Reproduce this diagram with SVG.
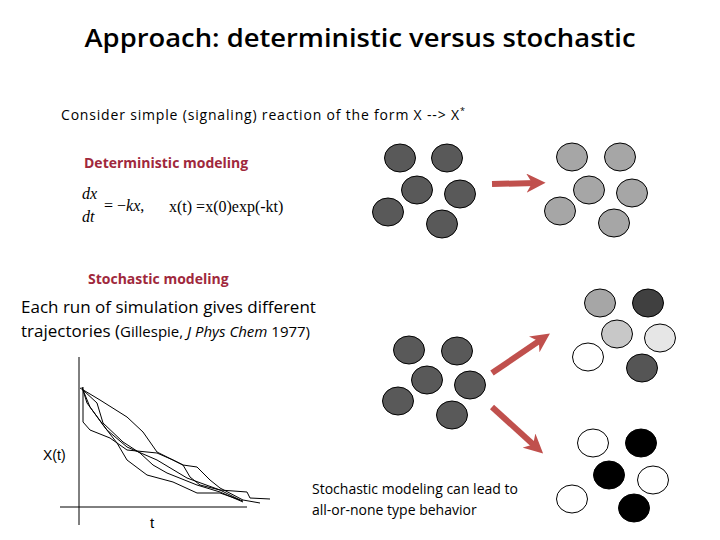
<svg xmlns="http://www.w3.org/2000/svg" width="720" height="540" viewBox="0 0 720 540">
<defs>
<style>
.c{stroke:#000;stroke-width:1}
.t{font-family:"Open Sans","Liberation Sans",sans-serif;fill:#000}
.r{font-family:"Open Sans","Liberation Sans",sans-serif;fill:#a0283c;font-weight:bold;font-size:14px}
.tr{fill:none;stroke:#000;stroke-width:1}
.ar{stroke:#c0504d;stroke-width:6;fill:none}
.m{font-family:"Liberation Serif",serif;font-size:16px}
</style>
<marker id="ah" viewBox="0 0 10 10" refX="5" refY="5" markerWidth="3.2" markerHeight="3.2" orient="auto" markerUnits="strokeWidth"><path d="M0,0 L10,5 L0,10 L3,5 Z" fill="#c0504d"/></marker>
</defs>
<rect width="720" height="540" fill="#fff"/>
<text x="360" y="47" text-anchor="middle" class="t" font-size="26" font-weight="600" textLength="551" lengthAdjust="spacingAndGlyphs">Approach: deterministic versus stochastic</text>
<text x="61" y="120" class="t" font-size="14" textLength="398">Consider simple (signaling) reaction of the form X --&gt; X</text>
<text x="460" y="114" class="t" font-size="9">*</text>
<text x="84" y="168" class="r">Deterministic modeling</text>
<text x="82" y="199" class="m" font-style="italic">dx</text>
<text x="82" y="222" class="m" font-style="italic">dt</text>
<text x="104" y="211" class="m">= −<tspan font-style="italic">kx</tspan>,</text>
<text x="169" y="212" class="m">x(t) =x(0)exp(-kt)</text>
<text x="88" y="284" class="r">Stochastic modeling</text>
<text x="21" y="313" class="t" font-size="17">Each run of simulation gives different</text>
<text x="21" y="337" class="t" font-size="17">trajectories (<tspan font-size="15">Gillespie, <tspan font-style="italic">J Phys Chem</tspan> 1977)</tspan></text>
<text x="312" y="494" class="t" font-size="14">Stochastic modeling can lead to</text>
<text x="312" y="515" class="t" font-size="14">all-or-none type behavior</text>

<g id="plot">
<line x1="79" y1="357" x2="79" y2="525" class="tr"/>
<line x1="60" y1="507" x2="247" y2="507" class="tr"/>
<text x="43" y="460" font-family="Liberation Sans,sans-serif" font-size="14">X(t)</text>
<text x="150" y="528" font-family="Liberation Sans,sans-serif" font-size="15">t</text>
<polyline class="tr" points="80,388 100,400 127,417 143,432 157,452 167,457 183,465 197,467 210,480 220,488 243,500 260,503"/>
<polyline class="tr" points="83,387 83,422 90,430 110,438 127,450 157,453 173,460 183,465 190,477 200,485 220,490 247,492 250,498 270,499"/>
<polyline class="tr" points="83,390 90,407 103,425 117,443 127,460 147,475 173,482 197,493 220,493 243,501"/>
<polyline class="tr" points="83,390 97,403 103,423 123,442 140,453 153,465 167,473 197,485 220,492 243,502"/>
<polyline class="tr" points="82,387 87,403 107,430 127,447 157,460 187,478 220,490 240,500"/>
</g>

<g id="det-start" class="c" fill="#595959">
<ellipse cx="400" cy="158" rx="15.5" ry="14"/><ellipse cx="447" cy="158" rx="15.5" ry="14"/>
<ellipse cx="417" cy="190" rx="15.5" ry="14"/><ellipse cx="460" cy="194" rx="15.5" ry="14"/>
<ellipse cx="388" cy="212" rx="15.5" ry="14"/><ellipse cx="442" cy="224" rx="15.5" ry="14"/>
</g>
<g id="det-end" class="c" fill="#a6a6a6">
<ellipse cx="572" cy="157" rx="15.5" ry="14"/><ellipse cx="620" cy="157" rx="15.5" ry="14"/>
<ellipse cx="589" cy="190" rx="15.5" ry="14"/><ellipse cx="632" cy="193" rx="15.5" ry="14"/>
<ellipse cx="560" cy="211" rx="15.5" ry="14"/><ellipse cx="614" cy="223" rx="15.5" ry="14"/>
</g>
<g id="sto-start" class="c" fill="#595959">
<ellipse cx="409" cy="350" rx="15.5" ry="14"/><ellipse cx="457" cy="351" rx="15.5" ry="14"/>
<ellipse cx="427" cy="380" rx="15.5" ry="14"/><ellipse cx="470" cy="385" rx="15.5" ry="14"/>
<ellipse cx="398" cy="401" rx="15.5" ry="14"/><ellipse cx="452" cy="415" rx="15.5" ry="14"/>
</g>
<g id="sto-mixed" class="c">
<ellipse cx="600" cy="303" rx="15.5" ry="14" fill="#a6a6a6"/><ellipse cx="648" cy="303" rx="15.5" ry="14" fill="#404040"/>
<ellipse cx="617" cy="334" rx="15.5" ry="14" fill="#c8c8c8"/><ellipse cx="660" cy="338" rx="15.5" ry="14" fill="#e6e6e6"/>
<ellipse cx="588" cy="357" rx="15.5" ry="14" fill="#fff"/><ellipse cx="642" cy="368" rx="15.5" ry="14" fill="#555"/>
</g>
<g id="sto-allornone" class="c">
<ellipse cx="593" cy="443" rx="15.5" ry="14" fill="#fff"/><ellipse cx="641" cy="443" rx="15.5" ry="14" fill="#000"/>
<ellipse cx="609" cy="475" rx="15.5" ry="14" fill="#000"/><ellipse cx="653" cy="480" rx="15.5" ry="14" fill="#fff"/>
<ellipse cx="572" cy="499" rx="15.5" ry="14" fill="#fff"/><ellipse cx="634" cy="508" rx="15.5" ry="14" fill="#000"/>
</g>
<g id="connectors">
<line x1="492" y1="184" x2="536" y2="183" class="ar" marker-end="url(#ah)"/>
<line x1="492" y1="373" x2="542" y2="339" class="ar" marker-end="url(#ah)"/>
<line x1="492" y1="407" x2="536" y2="447" class="ar" marker-end="url(#ah)"/>
</g>
</svg>
